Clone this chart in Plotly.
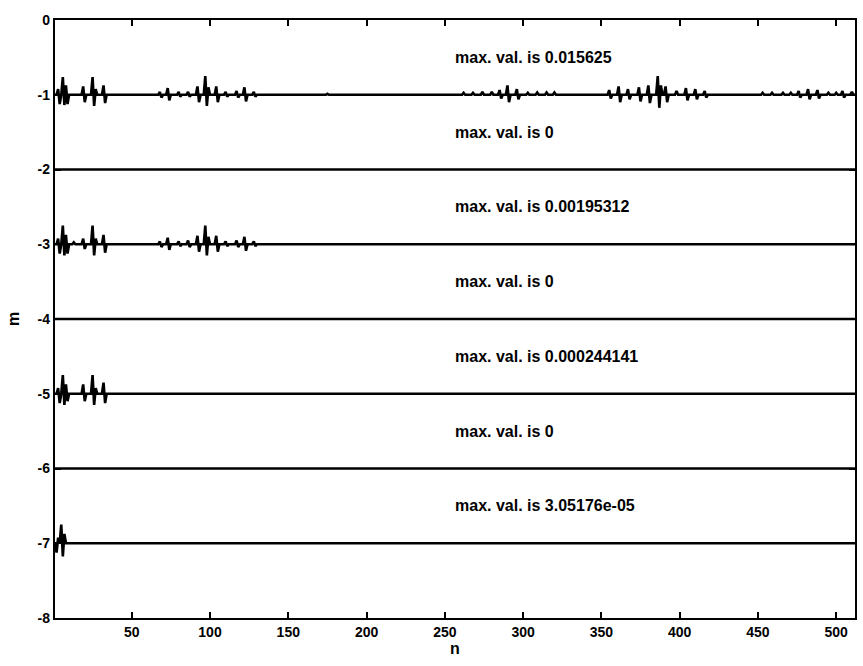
import numpy as np
import plotly.graph_objects as go

# Sample index and decomposition levels
N = 512
n = np.arange(1, N + 1)
levels = [1, 2, 3, 4, 5, 6, 7]

# Non-zero coefficients per level: sample index -> value
level1_idx = [3, 4, 6, 7, 8, 9, 19, 20, 25, 26, 27, 32, 33,
              68, 69, 73, 74, 80, 81, 86, 87, 92, 93, 97, 98, 99,
              104, 105, 110, 111, 117, 118, 122, 123, 128, 129,
              175,
              262, 268, 274, 280, 285, 286, 290, 291, 296, 297,
              303, 309, 315, 320,
              355, 356, 361, 362, 367, 368, 374, 375, 380, 381,
              386, 387, 388, 391, 392, 398, 404, 405, 410, 411, 416, 417,
              453, 459, 466, 471, 476, 477, 482, 483, 488, 489,
              495, 500, 504, 505, 510]
level1_val = [0.0047, -0.0078, 0.0148, -0.0086, 0.0078, -0.0078, 0.0070, -0.0062,
              0.0148, -0.0094, 0.0047, 0.0078, -0.0070,
              0.0023, -0.0023, 0.0055, -0.0047, 0.0023, -0.0016, 0.0023, -0.0016,
              0.0070, -0.0062, 0.015625, -0.0094, 0.0062,
              0.0070, -0.0062, 0.0023, -0.0016, 0.0031, -0.0023, 0.0062, -0.0055,
              0.0023, -0.0016,
              0.0008,
              0.0016, 0.0016, 0.0023, 0.0023, 0.0039, -0.0031, 0.0078, -0.0062,
              0.0047, -0.0039,
              0.0016, 0.0019, 0.0019, 0.0019,
              0.0039, -0.0031, 0.0070, -0.0062, 0.0047, -0.0039, 0.0062, -0.0055,
              0.0078, -0.0070,
              0.015625, -0.0109, 0.0078, 0.0070, -0.0062, 0.0031, 0.0055, -0.0047,
              0.0047, -0.0039, 0.0031, -0.0023,
              0.0016, 0.0016, 0.0016, 0.0016, 0.0031, -0.0023, 0.0047, -0.0039,
              0.0039, -0.0031,
              0.0016, 0.0016, 0.0031, -0.0023, 0.0023]

level3_idx = [3, 4, 6, 7, 8, 9, 13, 19, 20, 25, 26, 27, 32, 33,
              68, 69, 73, 74, 80, 81, 86, 87, 92, 93, 97, 98, 99,
              104, 105, 110, 111, 117, 118, 122, 123, 128, 129]
level3_val = [0.00059, -0.00098, 0.00195312, -0.00117, 0.00098, -0.00098, 0.00020,
              0.00059, -0.00049, 0.00195312, -0.00117, 0.00059, 0.00098, -0.00088,
              0.00029, -0.00029, 0.00068, -0.00059, 0.00029, -0.00020, 0.00039, -0.00029,
              0.00088, -0.00078, 0.00195312, -0.00117, 0.00078,
              0.00088, -0.00078, 0.00029, -0.00020, 0.00039, -0.00029, 0.00078, -0.00068,
              0.00029, -0.00020]

level5_idx = [3, 4, 6, 7, 8, 9, 19, 20, 25, 26, 27, 32, 33]
level5_val = [0.000073, -0.000122, 0.000244141, -0.000146, 0.000122, -0.000098,
              0.000122, -0.000098, 0.000244141, -0.000146, 0.000073, 0.000146, -0.000122]

level7_idx = [2, 3, 5, 6, 7]
level7_val = [-0.0000153, 0.0000092, 0.0000305176, -0.0000214, 0.0000153]

coeffs = {
    1: (level1_idx, level1_val),
    2: ([], []),
    3: (level3_idx, level3_val),
    4: ([], []),
    5: (level5_idx, level5_val),
    6: ([], []),
    7: (level7_idx, level7_val),
}

# Maximum values quoted for each level
max_labels = ["0.015625", "0", "0.00195312", "0", "0.000244141", "0", "3.05176e-05"]

# Fraction of one row height used by the largest coefficient
ROW_SCALE = 0.25

fig = go.Figure()

for m in levels:
    idx, val = coeffs[m]
    d = np.zeros(N)
    if idx:
        d[np.array(idx) - 1] = val
    peak = np.max(np.abs(d))
    y = -m + (ROW_SCALE * d / peak if peak > 0 else d)
    fig.add_trace(go.Scatter(
        x=n, y=y, mode="lines",
        line=dict(color="black", width=2.6),
        showlegend=False, hoverinfo="skip",
    ))

for m, lab in zip(levels, max_labels):
    fig.add_annotation(
        x=255, y=-m + 0.5, xref="x", yref="y",
        text=f"max. val. is {lab}", showarrow=False,
        xanchor="left", yanchor="middle",
        font=dict(family="Liberation Sans", size=16, color="black", weight="bold"),
    )

tick_font = dict(family="Liberation Sans", size=14, color="black", weight="bold")
title_font = dict(family="Liberation Sans", size=16, color="black", weight="bold")

fig.update_xaxes(
    range=[1, 512], tickvals=[50, 100, 150, 200, 250, 300, 350, 400, 450, 500],
    ticks="inside", ticklen=6, tickwidth=1.5, tickcolor="black",
    showline=True, linecolor="black", linewidth=2.4, mirror="ticks",
    showgrid=False, zeroline=False, tickfont=tick_font,
    title=dict(text="n", font=title_font, standoff=4),
)
fig.update_yaxes(
    range=[-8, 0], tickvals=list(range(-8, 1)),
    ticktext=[str(v) for v in range(-8, 1)],
    ticks="inside", ticklen=6, tickwidth=1.5, tickcolor="black",
    showline=True, linecolor="black", linewidth=2.4, mirror="ticks",
    showgrid=False, zeroline=False, tickfont=tick_font,
    title=dict(text="m", font=title_font, standoff=14),
)

fig.update_layout(
    width=863, height=666,
    margin=dict(l=55, r=6, t=20, b=48),
    plot_bgcolor="white", paper_bgcolor="white",
)

fig.write_html("out.html")
